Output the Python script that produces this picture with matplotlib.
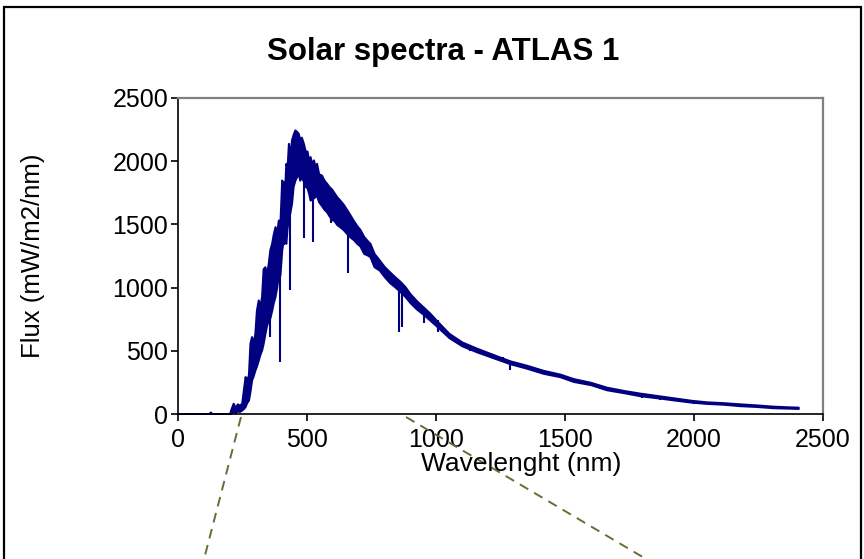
import matplotlib
matplotlib.use("Agg")
import matplotlib.pyplot as plt
from matplotlib.patches import Rectangle

plt.rcParams['font.family'] = ['Liberation Sans', 'DejaVu Sans']

# ATLAS 1 solar spectrum: upper / lower edge of the noisy band
wave = [0, 120, 124, 127, 130, 200,
        204, 214, 222, 230, 238, 247, 254, 260, 266, 273, 279, 285, 291, 298,
        304, 311, 317, 324, 330, 337, 343, 350, 356, 363, 369, 376, 382, 389,
        395, 402, 406, 410, 414, 418, 423, 428, 434, 440, 446, 453, 460, 466,
        472, 478, 486, 493, 500, 506, 512, 518, 525, 531, 537, 545, 556, 566,
        576, 585, 595, 605, 615, 628, 640, 653, 667, 680, 693, 705, 720, 732,
        744, 760, 780, 800, 820, 840, 860, 880, 900, 925, 950, 975, 1000,
        1050, 1100, 1158, 1222, 1287, 1352, 1416, 1481, 1532, 1600, 1661, 1730,
        1790, 1860, 1920, 1990, 2049, 2110, 2178, 2240, 2306, 2360, 2404]
flux_hi = [0, 0, 14, 14, 0, 0,
           32, 85, 50, 80, 70, 85, 200, 296, 270, 309, 560, 612, 560, 638,
           820, 902, 850, 928, 1150, 1165, 1100, 1193, 1300, 1350, 1420, 1482, 1430, 1535,
           1500, 1851, 1760, 1840, 1800, 1983, 1950, 2141, 2050, 2168, 2210, 2247, 2235, 2220,
           2170, 2190, 2140, 2080, 2080, 2010, 2036, 1980, 2010, 1960, 1983, 1900, 1890, 1850,
           1825, 1800, 1780, 1750, 1719, 1690, 1660, 1620, 1574, 1530, 1490, 1460, 1404, 1375,
           1350, 1270, 1218, 1165, 1125, 1086, 1050, 1007, 950, 895, 847, 800, 744,
           638, 570, 520, 470, 420, 385, 345, 315, 280, 250, 212, 185,
           165, 145, 128, 108, 96, 90, 80, 72, 62, 57, 54]
flux_lo = [0, 0, 0, 0, 0, 0,
           6, 19, 10, 25, 20, 32, 45, 59, 90, 111, 180, 269, 300, 348,
           380, 427, 470, 506, 560, 640, 700, 744, 760, 820, 880, 930, 1000, 1100,
           1100, 1300, 1350, 1350, 1380, 1350, 1480, 1535, 1600, 1667, 1800, 1850, 1880, 1900,
           1850, 1880, 1840, 1800, 1790, 1750, 1693, 1700, 1710, 1720, 1730, 1680, 1650, 1620,
           1600, 1570, 1540, 1530, 1500, 1480, 1460, 1430, 1400, 1380, 1350, 1330, 1270, 1260,
           1245, 1165, 1139, 1086, 1040, 1007, 970, 930, 880, 830, 790, 745, 700,
           605, 540, 492, 445, 398, 362, 322, 295, 258, 232, 192, 168,
           145, 128, 112, 94, 84, 78, 66, 60, 50, 47, 44]

# absorption lines dipping below the band
dip_wave = [357, 395, 434, 490, 524, 593, 660, 855, 867, 955, 1009, 1130, 1260, 1287,
            1450, 1560, 1800, 1870, 2000, 2170]
dip_top = [900, 1350, 1700, 1900, 1850, 1700, 1550, 1040, 1020, 850, 744, 530, 450, 420,
           320, 260, 150, 140, 100, 75]
dip_flux = [612, 414, 982, 1390, 1363, 1509, 1113, 652, 691, 717, 652, 500, 420, 348,
            300, 240, 130, 110, 82, 60]

# callout lines under the axis (wavelength, flux)
zoom_x = [[244, 101], [884, 1814]]
zoom_y = [-24, -1147]

navy = '#000080'

fig = plt.figure(figsize=(8.64, 5.59), dpi=100)
ax = fig.add_axes([178 / 864, 1 - 414 / 559, 645 / 864, 316 / 559])

ax.fill_between(wave, flux_lo, flux_hi, color=navy, lw=1.5, edgecolor=navy)
ax.vlines(dip_wave, dip_flux, dip_top, color=navy, lw=1.5)

for xs in zoom_x:
    ax.plot(xs, zoom_y, color='#6b6b35', lw=1.4, ls=(0, (5, 3.5)), clip_on=False)

ax.set_xlim(0, 2500)
ax.set_ylim(0, 2500)
ax.set_xticks(range(0, 2501, 500))
ax.set_yticks(range(0, 2501, 500))
ax.tick_params(direction='out', length=5, width=1.2, labelsize=18, color='black')
ax.tick_params(axis='x', pad=5)
ax.tick_params(axis='y', pad=2)
for side in ['top', 'right']:
    ax.spines[side].set_color('#808080')
    ax.spines[side].set_linewidth(1.6)
for side in ['left', 'bottom']:
    ax.spines[side].set_color('black')
    ax.spines[side].set_linewidth(1.2)

fig.text(521 / 864, 1 - 464 / 559, 'Wavelenght (nm)', fontsize=19, ha='center', va='center')
fig.text(33 / 864, 1 - 256 / 559, 'Flux (mW/m2/nm)', fontsize=18.5, ha='center', va='center',
         rotation=90)
fig.text(443 / 864, 1 - 52 / 559, 'Solar spectra - ATLAS 1', fontsize=22.5, fontweight='bold',
         ha='center', va='center')

# chart frame
fig.patches.append(Rectangle((4 / 864, -0.05), 857 / 864, 1.05 - 7 / 559, transform=fig.transFigure,
                             fill=False, edgecolor='black', lw=1.6))

fig.savefig('out.png', dpi=100)
